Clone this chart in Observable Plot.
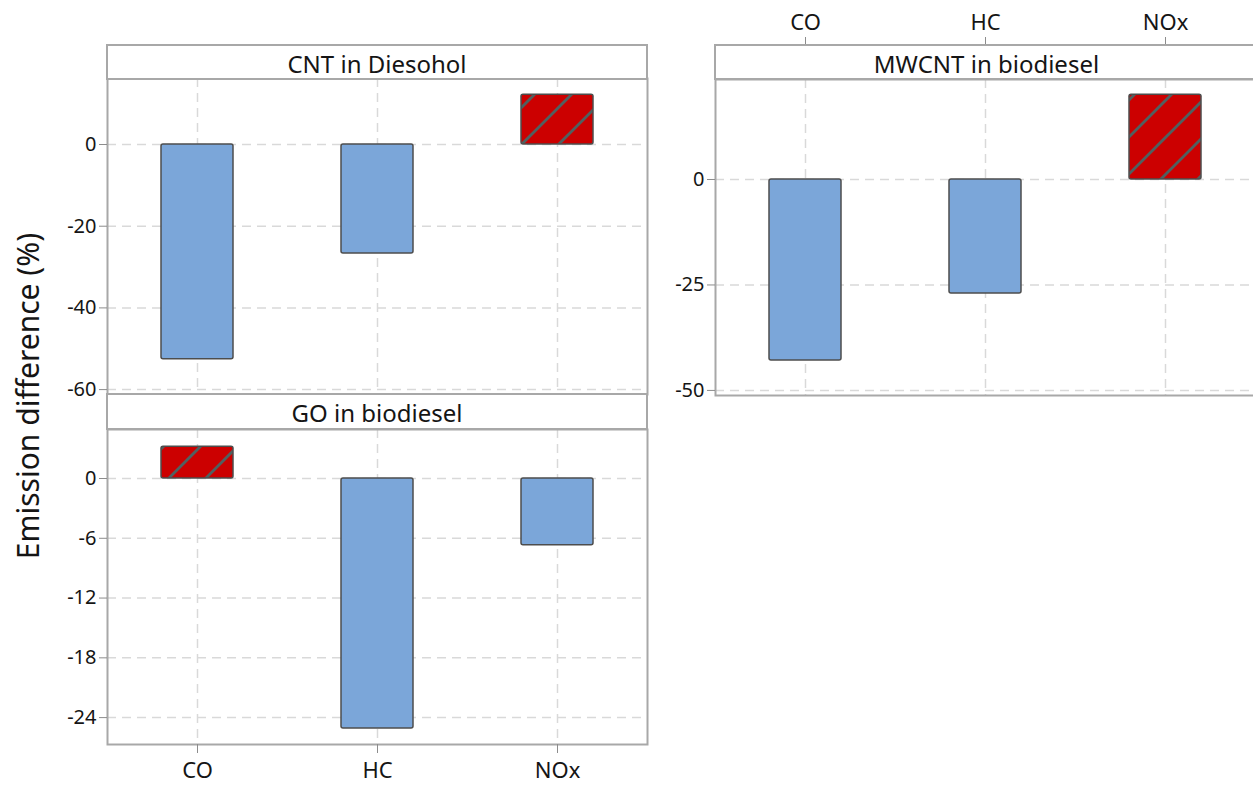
<!DOCTYPE html>
<html>
<head>
<meta charset="utf-8">
<script src="https://cdn.jsdelivr.net/npm/d3@7"></script>
<script src="https://cdn.jsdelivr.net/npm/@observablehq/plot@0.6"></script>
<style>
  html, body { margin: 0; padding: 0; background: #fff; overflow: hidden; }
  #wrap { position: relative; width: 1253px; height: 785px; overflow: hidden; font-family: "Noto Sans", sans-serif; color: #151515; }
  .chart { position: absolute; }
  .strip { position: absolute; box-sizing: border-box; border: 2px solid #a8a8a8; background: #fff;
           font-size: 24px; text-align: center; line-height: 35px; color: #151515; overflow: hidden; }
  #ytitle { position: absolute; left: 27px; top: 396px; transform: translate(-50%, -50%) rotate(-90deg);
            font-size: 30px; white-space: nowrap; color: #151515; }
</style>
</head>
<body>
<svg width="0" height="0" style="position:absolute">
  <defs>
    <pattern id="hatch" patternUnits="userSpaceOnUse" width="37" height="37">
      <rect width="37" height="37" fill="#cc0000"></rect>
      <path d="M-6,6 L6,-6 M0,37 L37,0 M31,43 L43,31" stroke="#506060" stroke-width="2.8"></path>
    </pattern>
  </defs>
</svg>
<div id="wrap"></div>
<script>
const categories = ["CO", "HC", "NOx"];
const panelTitles = ["CNT in Diesohol", "GO in biodiesel", "MWCNT in biodiesel"];
const cntDiesohol = [-52.6, -26.7, 12.2];
const goBiodiesel = [3.2, -25.1, -6.7];
const mwcntBiodiesel = [-42.9, -27.0, 20.1];
const ticksCNT = [0, -20, -40, -60];
const ticksGO = [0, -6, -12, -18, -24];
const ticksMWCNT = [0, -25, -50];
const yTitle = "Emission difference (%)";

const wrap = document.getElementById("wrap");

const BLUE = "#7ba6d9";
const GRID = "#d9d9d9";
const FRAME = "#a8a8a8";
const TEXT = "#151515";

function panel({values, ticks, domain, width, height, marginLeft, marginRight, marginTop, marginBottom, xAxis}) {
  const data = categories.map((c, i) => ({cat: c, value: values[i]}));
  const marks = [
    Plot.ruleY(ticks, {stroke: GRID, strokeWidth: 1.5, strokeDasharray: "9,6"}),
    Plot.ruleX(categories, {stroke: GRID, strokeWidth: 1.5, strokeDasharray: "9,6"}),
    Plot.barY(data.filter(d => d.value < 0), {x: "cat", y: "value", fill: BLUE, stroke: "#4d4d4d", strokeWidth: 1.5, rx: 2}),
    Plot.barY(data.filter(d => d.value >= 0), {x: "cat", y: "value", fill: "url(#hatch)", stroke: "#4d4d4d", strokeWidth: 1.5, rx: 2}),
    Plot.frame({stroke: FRAME, strokeWidth: 2}),
    Plot.axisY(ticks, {tickSize: 8, tickPadding: 3, stroke: "#8c8c8c", fill: TEXT, fontSize: 20, label: null, tickFormat: d => `${d}`})
  ];
  if (xAxis === "bottom") marks.push(Plot.axisX({anchor: "bottom", tickSize: 9, tickPadding: 9, stroke: "#8c8c8c", fill: TEXT, fontSize: 22, label: null}));
  if (xAxis === "top") marks.push(Plot.axisX({anchor: "top", dy: -34, tickSize: 9, tickPadding: 7, stroke: "#8c8c8c", fill: TEXT, fontSize: 22, label: null}));
  return Plot.plot({
    width, height, marginLeft, marginRight, marginTop, marginBottom,
    style: {fontFamily: "Noto Sans, sans-serif", fontSize: "20px", color: TEXT, background: "transparent", overflow: "visible"},
    x: {domain: categories, paddingInner: 0.6, paddingOuter: 0.3, axis: xAxis ? undefined : null},
    y: {domain},
    marks
  });
}

function place(el, left, top) {
  el.classList.add("chart");
  el.style.left = left + "px";
  el.style.top = top + "px";
  wrap.appendChild(el);
}
function strip(text, left, top, width, height) {
  const d = document.createElement("div");
  d.className = "strip";
  d.style.left = left + "px"; d.style.top = top + "px";
  d.style.width = width + "px"; d.style.height = height + "px";
  d.textContent = text;
  wrap.appendChild(d);
}

// Top-left: CNT in Diesohol
place(panel({values: cntDiesohol, ticks: ticksCNT, domain: [-61.2, 16.16],
  width: 653, height: 324, marginLeft: 107, marginRight: 6, marginTop: 4, marginBottom: 4}), 0, 74);
// Bottom-left: GO in biodiesel
place(panel({values: goBiodiesel, ticks: ticksGO, domain: [-26.7, 4.92],
  width: 653, height: 359, marginLeft: 107, marginRight: 6, marginTop: 4, marginBottom: 40, xAxis: "bottom"}), 0, 425);
// Right: MWCNT in biodiesel
place(panel({values: mwcntBiodiesel, ticks: ticksMWCNT, domain: [-51.2, 23.7],
  width: 655, height: 401, marginLeft: 115, marginRight: 0, marginTop: 79, marginBottom: 6, xAxis: "top"}), 600, 0);

strip(panelTitles[0], 106, 44, 542, 36);
strip(panelTitles[1], 106, 393, 542, 37);
strip(panelTitles[2], 714, 44, 545, 36);

const t = document.createElement("div");
t.id = "ytitle";
t.textContent = yTitle;
wrap.appendChild(t);
</script>
</body>
</html>
